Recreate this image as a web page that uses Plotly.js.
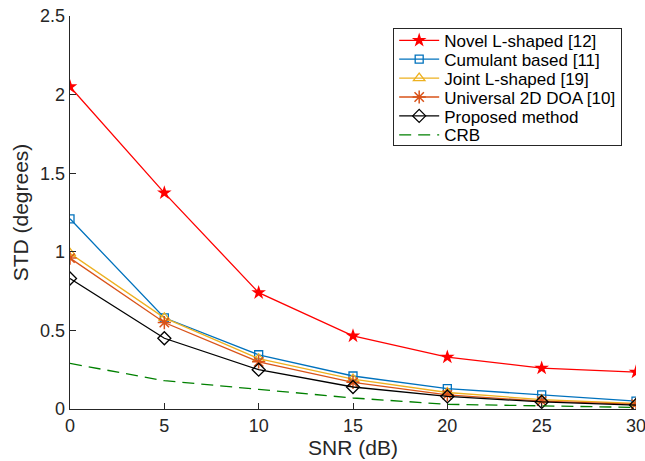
<!DOCTYPE html>
<html><head><meta charset="utf-8">
<script src="https://cdn.plot.ly/plotly-3.0.1.min.js"></script>
<style>html,body{margin:0;padding:0;background:#fff}#chart{width:645px;height:461px}</style>
</head><body><div id="chart"></div>
<script>
const snr = [0, 5, 10, 15, 20, 25, 30];
const novelL = [2.05, 1.375, 0.74, 0.465, 0.33, 0.26, 0.235];
const cumulant = [1.21, 0.58, 0.345, 0.21, 0.13, 0.09, 0.05];
const jointL = [0.99, 0.58, 0.32, 0.19, 0.105, 0.06, 0.035];
const universal = [0.96, 0.55, 0.30, 0.17, 0.09, 0.05, 0.03];
const proposed = [0.83, 0.45, 0.25, 0.14, 0.08, 0.045, 0.025];
const crb = [0.29, 0.18, 0.125, 0.07, 0.03, 0.018, 0.01];
const names = ["Novel L-shaped [12]", "Cumulant based [11]", "Joint L-shaped [19]", "Universal 2D DOA [10]", "Proposed method", "CRB"];
const xTicks = [0, 5, 10, 15, 20, 25, 30];
const yTicks = [0, 0.5, 1, 1.5, 2, 2.5];
const yTickText = ['0', '0.5', '1', '1.5', '2', '2.5'];

const traces = [
  {x: snr, y: novelL, name: names[0], mode: 'lines+markers', line: {color: '#FF0000', width: 1.3}, marker: {symbol: 'star', size: 11, color: '#FF0000'}},
  {x: snr, y: cumulant, name: names[1], mode: 'lines+markers', line: {color: '#0072BD', width: 1.3}, marker: {symbol: 'square-open', size: 8, color: '#0072BD', line: {width: 1.3}}},
  {x: snr, y: jointL, name: names[2], mode: 'lines+markers', line: {color: '#EDB120', width: 1.3}, marker: {symbol: 'triangle-up-open', size: 10, color: '#EDB120', line: {width: 1.3}}},
  {x: snr, y: universal, name: names[3], mode: 'lines+markers', line: {color: '#D95319', width: 1.3}, marker: {symbol: 'asterisk-open', size: 11, color: '#D95319', line: {width: 1.5, color: '#D95319'}}},
  {x: snr, y: proposed, name: names[4], mode: 'lines+markers', line: {color: '#000000', width: 1.3}, marker: {symbol: 'diamond-open', size: 10, color: '#000000', line: {width: 1.3}}},
  {x: snr, y: crb, name: names[5], mode: 'lines', line: {color: '#008000', width: 1.3, dash: '12px,7px'}}
];

const fam = 'Liberation Sans, Arial, sans-serif';
const tickFont = {family: fam, size: 18, color: '#262626'};
const titleFont = {family: fam, size: 21, color: '#262626'};
const layout = {
  width: 645, height: 461,
  margin: {l: 70, r: 9, t: 16, b: 52},
  paper_bgcolor: '#fff', plot_bgcolor: '#fff',
  showlegend: true,
  xaxis: {
    range: [0, 30], tickvals: xTicks, ticks: 'inside', ticklen: 6, tickcolor: '#262626',
    showline: true, linecolor: '#262626', linewidth: 1.3, showgrid: false, zeroline: false,
    ticklabeloverflow: 'allow',
    tickfont: tickFont, title: {text: 'SNR (dB)', font: titleFont, standoff: 2}
  },
  yaxis: {
    range: [0, 2.5], tickvals: yTicks, ticktext: yTickText,
    ticks: 'inside', ticklen: 6, tickcolor: '#262626',
    showline: true, linecolor: '#262626', linewidth: 1.3, showgrid: false, zeroline: false,
    ticklabeloverflow: 'allow',
    tickfont: tickFont, title: {text: 'STD (degrees)', font: titleFont, standoff: 5}
  },
  legend: {
    x: 0.571, y: 0.97, xanchor: 'left', yanchor: 'top',
    bgcolor: '#fff', bordercolor: '#262626', borderwidth: 1,
    font: {family: fam, size: 17, color: '#000'},
    tracegroupgap: 0, itemwidth: 40
  }
};
Plotly.newPlot('chart', traces, layout, {displayModeBar: false, staticPlot: true}).then(function (gd) {
  // tighten legend row spacing to match the reference
  var leg = gd.querySelector('.legend');
  if (!leg) return;
  var items = leg.querySelectorAll('.traces');
  var y0 = 12.5, rowH = 18.9;
  items.forEach(function (it, i) {
    var t = it.getAttribute('transform') || '';
    var m = t.match(/translate\(\s*([-\d.e]+)[ ,]+([-\d.e]+)\s*\)/);
    var x = m ? parseFloat(m[1]) : 0;
    it.setAttribute('transform', 'translate(' + x + ',' + (y0 + i * rowH) + ')');
  });
  var bg = leg.querySelector('rect.bg');
  if (bg) bg.setAttribute('height', y0 + (items.length - 1) * rowH + 10);
});
</script></body></html>
